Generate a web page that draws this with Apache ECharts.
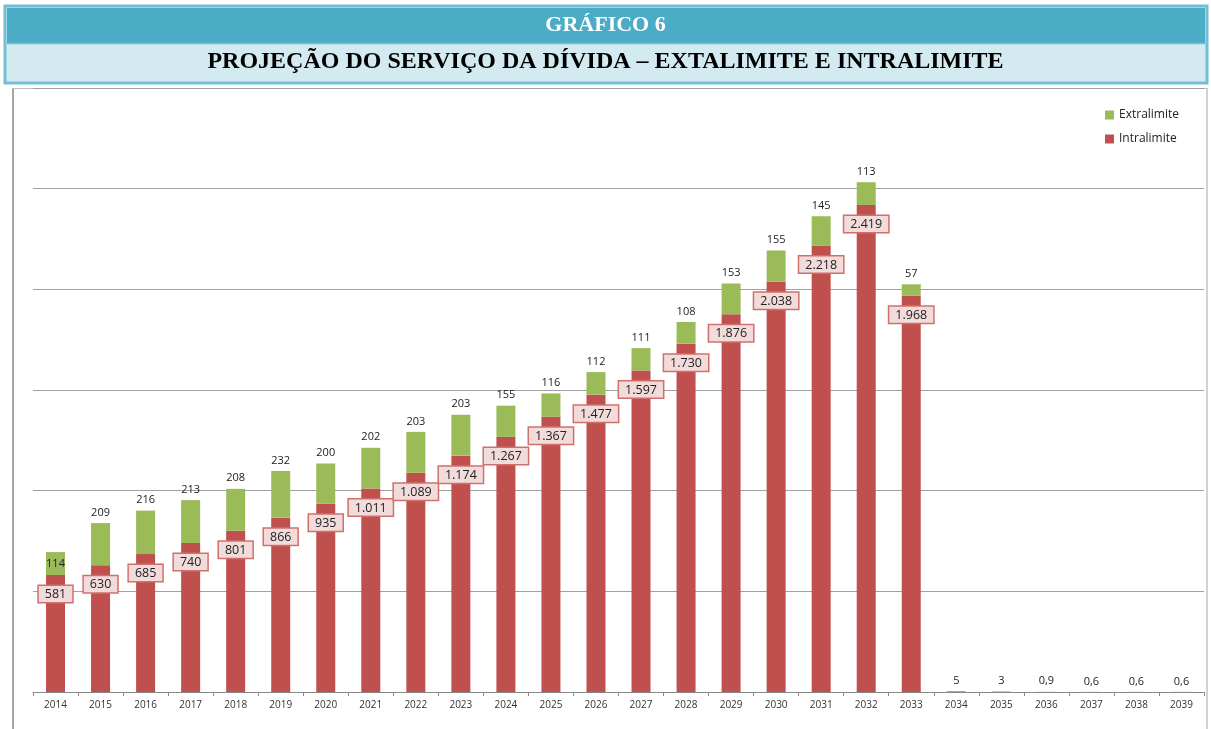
<!DOCTYPE html>
<html>
<head>
<meta charset="utf-8">
<script src="https://cdn.jsdelivr.net/npm/echarts@6/dist/echarts.min.js"></script>
<style>
html,body{margin:0;padding:0;background:#fff;}
#chart{width:1211px;height:729px;}
</style>
</head>
<body>
<div id="chart"></div>
<script>
var years = ['2014','2015','2016','2017','2018','2019','2020','2021','2022','2023','2024','2025','2026','2027','2028','2029','2030','2031','2032','2033','2034','2035','2036','2037','2038','2039'];
var intralimite = [581,630,685,740,801,866,935,1011,1089,1174,1267,1367,1477,1597,1730,1876,2038,2218,2419,1968,null,null,null,null,null,null];
var extralimite = [114,209,216,213,208,232,200,202,203,203,155,116,112,111,108,153,155,145,113,57,5,3,0.9,0.6,0.6,0.6];
var titleTop = 'GRÁFICO 6';
var titleMain = 'PROJEÇÃO DO SERVIÇO DA DÍVIDA – EXTALIMITE E INTRALIMITE';

function fmtBR(v){
  if (v === null || v === undefined) return '';
  var parts = String(v).split('.');
  var intPart = parts[0].replace(/\B(?=(\d{3})+(?!\d))/g, '.');
  return parts.length > 1 ? intPart + ',' + parts[1] : intPart;
}

var chart = echarts.init(document.getElementById('chart'));
var FONT = '"Open Sans", sans-serif';

var extraData = extralimite.map(function(v, i){
  return i === 0 ? {value: v, label: {position: 'insideTop', distance: 6}} : v;
});

chart.setOption({
  animation: false,
  backgroundColor: '#ffffff',
  title: [
    {text: titleTop, left: 'center', top: 9,
     textStyle: {fontFamily: '"Liberation Serif", serif', fontWeight: 'bold', fontSize: 22, color: '#ffffff'}},
    {text: titleMain, left: 'center', top: 45,
     textStyle: {fontFamily: '"Liberation Serif", serif', fontWeight: 'bold', fontSize: 24, color: '#000000'}}
  ],
  graphic: [
    {type: 'rect', z: -10, shape: {x: 5, y: 6, width: 1202, height: 77}, style: {fill: '#D3EAF1', stroke: '#74BED3', lineWidth: 3}},
    {type: 'rect', z: -9, shape: {x: 7, y: 8, width: 1198, height: 35}, style: {fill: '#4BACC6'}},
    {type: 'line', z: -8, shape: {x1: 7, y1: 43.5, x2: 1205, y2: 43.5}, style: {stroke: '#74BED3', lineWidth: 1.5}},
    {type: 'line', z: -5, shape: {x1: 13, y1: 88, x2: 13, y2: 729}, style: {stroke: '#A6A6A6', lineWidth: 2}},
    {type: 'line', z: -5, shape: {x1: 12, y1: 88.5, x2: 1207, y2: 88.5}, style: {stroke: '#BDBDBD', lineWidth: 1}},
    {type: 'line', z: -5, shape: {x1: 1207, y1: 88, x2: 1207, y2: 729}, style: {stroke: '#A6A6A6', lineWidth: 1}}
  ],
  legend: {
    data: ['Extralimite', 'Intralimite'],
    orient: 'vertical',
    left: 1100,
    top: 104,
    icon: 'rect',
    itemWidth: 9,
    itemHeight: 9,
    itemGap: 12,
    textStyle: {fontFamily: FONT, fontSize: 12, color: '#222'}
  },
  grid: {left: 33, right: 7, top: 88, bottom: 37, containLabel: false},
  xAxis: {
    type: 'category',
    data: years,
    axisLine: {lineStyle: {color: '#888888', width: 1}},
    axisTick: {show: true, alignWithLabel: false, length: 4, lineStyle: {color: '#888888'}},
    axisLabel: {fontFamily: FONT, fontSize: 10, color: '#333', margin: 8, interval: 0}
  },
  yAxis: {
    type: 'value',
    min: 0, max: 3000, interval: 500,
    axisLabel: {show: false},
    axisLine: {show: false},
    axisTick: {show: false},
    splitLine: {lineStyle: {color: '#A0A0A0', width: 1}}
  },
  series: [
    {
      name: 'Intralimite', type: 'bar', stack: 'total', barWidth: 19,
      data: intralimite,
      itemStyle: {color: '#C0504D'},
      label: {
        show: true, position: 'insideTop', distance: 11,
        formatter: function(p){ return fmtBR(p.value); },
        fontFamily: FONT, fontSize: 12.5, color: '#222',
        backgroundColor: '#F2DCDB', borderColor: '#D0706D', borderWidth: 1.5,
        padding: [2, 6, 1, 6]
      }
    },
    {
      name: 'Extralimite', type: 'bar', stack: 'total', barWidth: 19,
      data: extraData,
      itemStyle: {color: '#9BBB59'},
      label: {
        show: true, position: 'top', distance: 5,
        formatter: function(p){ return fmtBR(p.value); },
        fontFamily: FONT, fontSize: 11, color: '#222'
      }
    }
  ]
});
</script>
</body>
</html>
